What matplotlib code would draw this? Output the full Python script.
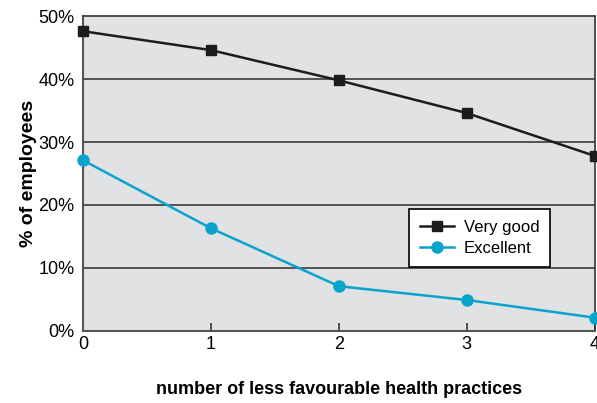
import numpy as np
import matplotlib.pyplot as plt
from matplotlib.ticker import FuncFormatter

plt.rcParams['font.family'] = ['Liberation Sans', 'DejaVu Sans']

practices = [0, 1, 2, 3, 4]
very_good = [47.6, 44.6, 39.8, 34.6, 27.8]
excellent = [27.1, 16.3, 7.1, 4.9, 2.1]
y_ticks = [0, 10, 20, 30, 40, 50]

fig = plt.figure(figsize=(5.97, 4.03), dpi=100)
ax = fig.add_axes([0.139, 0.179, 0.857, 0.781])
ax.set_facecolor('#e1e2e4')

for y in y_ticks[1:-1]:
    ax.axhline(y, color='#3a3a3a', lw=1.2, zorder=1)

ax.plot(practices, very_good, color='#1c1c1c', lw=1.8, marker='s', ms=7,
        label='Very good', zorder=3, clip_on=False)
ax.plot(practices, excellent, color='#0aa3cc', lw=1.8, marker='o', ms=8,
        label='Excellent', zorder=3, clip_on=False)

ax.set_xlim(0, 4)
ax.set_ylim(0, 50)
ax.set_xticks(practices)
ax.set_yticks(y_ticks)
ax.yaxis.set_major_formatter(FuncFormatter(lambda v, p: f'{int(v)}%'))
ax.tick_params(axis='y', length=0, labelsize=13, pad=6)
ax.tick_params(axis='x', direction='in', length=6, width=1.2, color='#333333',
               labelsize=13, pad=4)

for side in ['left', 'bottom']:
    ax.spines[side].set_color('#555555')
    ax.spines[side].set_linewidth(1.5)
for side in ['top', 'right']:
    ax.spines[side].set_color('#333333')
    ax.spines[side].set_linewidth(1.2)

ax.set_ylabel('% of employees', fontsize=14, fontweight='bold', labelpad=1)
ax.set_xlabel('number of less favourable health practices', fontsize=13,
              fontweight='bold', labelpad=20)

leg = ax.legend(loc='upper left', bbox_to_anchor=(0.638, 0.387), fontsize=12,
                frameon=True, fancybox=False, edgecolor='black',
                facecolor='white', framealpha=1, handlelength=2.0,
                borderpad=0.65, labelspacing=0.35, borderaxespad=0,
                handletextpad=0.6)
leg.get_frame().set_linewidth(1.2)

fig.savefig('out.png', dpi=100)
